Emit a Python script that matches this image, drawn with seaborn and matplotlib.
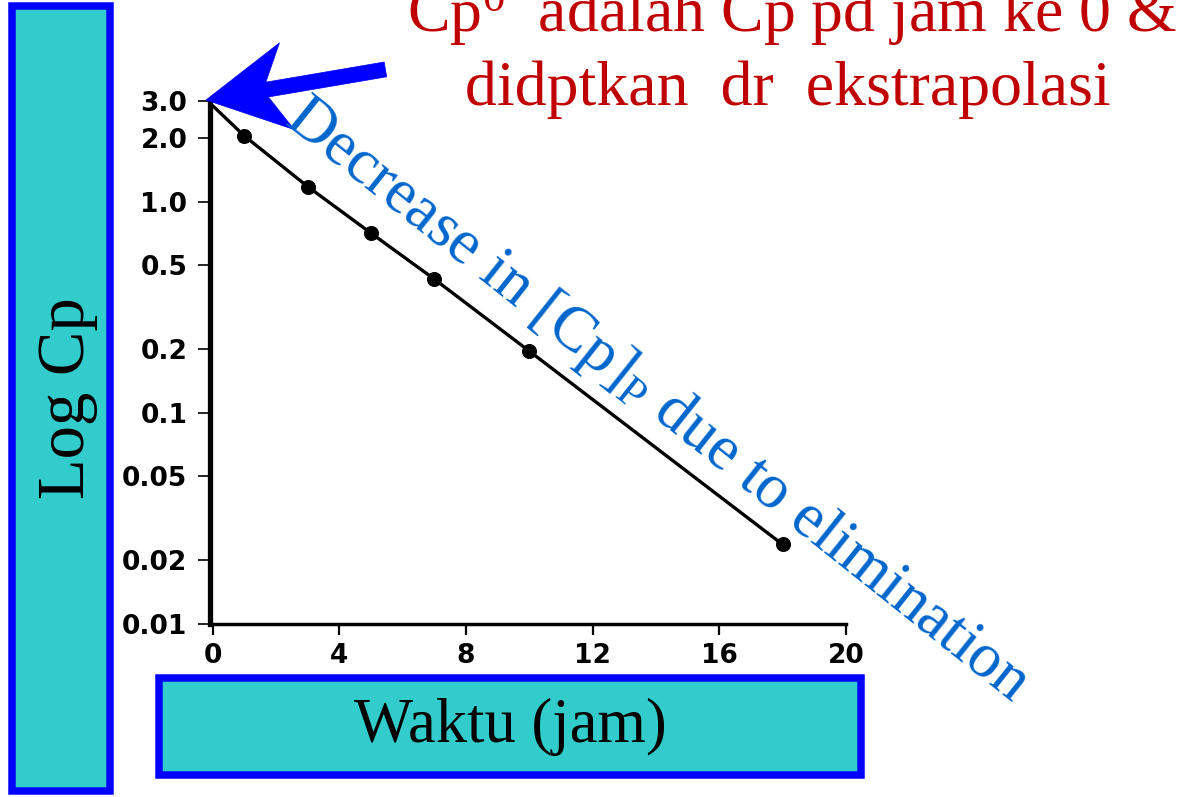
"""Log Cp vs waktu plot (one compartment, elimination phase)."""
# %%
import matplotlib.pyplot as plt
import seaborn as sns
from matplotlib.patches import Rectangle, Polygon
from matplotlib.ticker import NullLocator
import numpy as np


# %%
# data
times = [1, 3, 5, 7, 10, 18]
cp = [2.05, 1.18, 0.71, 0.43, 0.196, 0.0238]
# extrapolated line back to jam ke 0
line_t = [0, 1, 3, 5, 7, 10, 18]
line_cp = [2.85, 2.05, 1.18, 0.71, 0.43, 0.196, 0.0238]

xtick_vals = [0, 4, 8, 12, 16, 20]
ytick_vals = [0.01, 0.02, 0.05, 0.1, 0.2, 0.5, 1.0, 2.0, 3.0]
ytick_labels = ['0.01', '0.02', '0.05', '0.1', '0.2', '0.5', '1.0', '2.0', '3.0']


# %%
sns.set_style('white')
plt.rcParams['mathtext.fontset'] = 'custom'
plt.rcParams['mathtext.rm'] = 'Liberation Serif'
plt.rcParams['mathtext.it'] = 'Liberation Serif:italic'

W, H = 1189, 797
fig = plt.figure(figsize=(W / 100, H / 100), dpi=100)


def px(x, y):
    # pixel position (from top left) -> figure fraction
    return x / W, 1 - y / H


ax = fig.add_axes([209.5 / W, 1 - 624 / H, (846 - 209.5) / W, (624 - 101) / H])
ax.set_yscale('log')

sns.lineplot(x=line_t, y=line_cp, ax=ax, color='black', linewidth=2.4)
sns.scatterplot(x=times, y=cp, ax=ax, color='black', s=100, edgecolor='black', zorder=3)

ax.set_xlim(-0.1, 20)
ax.set_ylim(0.01, 3.0)
ax.set_xticks(xtick_vals)
ax.set_xticklabels([str(v) for v in xtick_vals])
ax.set_yticks(ytick_vals)
ax.set_yticklabels(ytick_labels)
ax.yaxis.set_minor_locator(NullLocator())

tickfont = {'family': 'DejaVu Sans', 'weight': 'heavy', 'size': 19}
for lab in ax.get_xticklabels() + ax.get_yticklabels():
    lab.set_fontproperties(tickfont)
    lab.set_color('black')

ax.tick_params(axis='y', direction='out', length=9, width=1.2, pad=7, left=True, color='black')
ax.tick_params(axis='x', direction='out', length=8, width=1.6, pad=6, bottom=True, color='black')
ax.set_xlabel('')
ax.set_ylabel('')
ax.spines['top'].set_visible(False)
ax.spines['right'].set_visible(False)
ax.spines['left'].set_linewidth(3.8)
ax.spines['bottom'].set_linewidth(2.5)
ax.spines['left'].set_color('black')
ax.spines['bottom'].set_color('black')


# %%
# teal label boxes
teal = '#33CCCC'
blue = '#0000FF'
x0, y0 = px(12, 791)
x1, y1 = px(109.5, 6)
fig.add_artist(Rectangle((x0, y0), x1 - x0, y1 - y0, transform=fig.transFigure,
                         facecolor=teal, edgecolor=blue, linewidth=5.4))
x0, y0 = px(158.5, 774.5)
x1, y1 = px(860.5, 677.5)
fig.add_artist(Rectangle((x0, y0), x1 - x0, y1 - y0, transform=fig.transFigure,
                         facecolor=teal, edgecolor=blue, linewidth=5.4))

fig.text(*px(68, 398), 'Log Cp', rotation=90, ha='center', va='center',
         family='Liberation Serif', fontsize=48, color='black')
fig.text(*px(510, 727), 'Waktu (jam)', ha='center', va='center',
         family='Liberation Serif', fontsize=45, color='black')

# red note at the top (first line runs off the top edge, as in the slide)
fig.text(*px(792, 32), r'Cp$^\mathrm{0}$  adalah Cp pd jam ke 0 &', ha='center', va='baseline',
         family='Liberation Serif', fontsize=46, color='#C00000')
fig.text(*px(788, 105), 'didptkan  dr  ekstrapolasi', ha='center', va='baseline',
         family='Liberation Serif', fontsize=46, color='#C00000')

# blue rotated note
fig.text(*px(283, 122), r'Decrease in [Cp]$_\mathrm{P}$ due to elimination', rotation=-38.5,
         rotation_mode='anchor', ha='left', va='baseline',
         family='Liberation Serif', fontsize=45.5, color='#0066CC', zorder=5)

# %%
# blue arrow pointing at Cp0
tip = np.array([206.0, 100.0])
u = np.array([176.0, -30.0])
u = u / np.linalg.norm(u)
n = np.array([-u[1], u[0]])
pts = [tip,
       tip + 82 * u - 44 * n,
       tip + 62 * u - 7.5 * n,
       tip + 182 * u - 7.5 * n,
       tip + 182 * u + 7.5 * n,
       tip + 62 * u + 7.5 * n,
       tip + 82 * u + 44 * n]
pts = [px(p[0], p[1]) for p in pts]
fig.add_artist(Polygon(pts, closed=True, transform=fig.transFigure,
                       facecolor=blue, edgecolor=blue, linewidth=0.5, zorder=4))

plt.savefig('out.png', dpi=100)
